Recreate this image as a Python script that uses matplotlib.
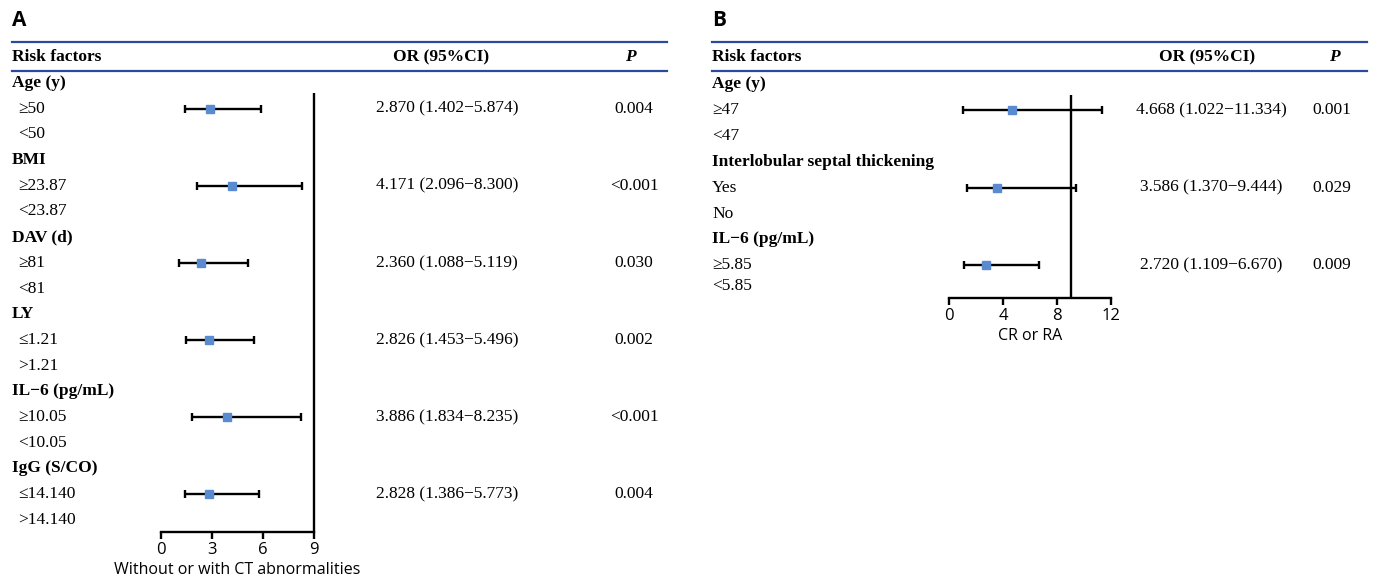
import matplotlib
matplotlib.use("Agg")
import matplotlib.pyplot as plt
from matplotlib.lines import Line2D
import matplotlib.transforms as mtransforms

# ---- dados do painel A ----
labels_a = ["Age (y)", "≥50", "<50", "BMI", "≥23.87", "<23.87", "DAV (d)", "≥81", "<81",
            "LY", "≤1.21", ">1.21", "IL−6 (pg/mL)", "≥10.05", "<10.05",
            "IgG (S/CO)", "≤14.140", ">14.140"]
header_a = [True, False, False] * 6
or_rows_a = [1, 4, 7, 10, 13, 16]
or_a = [2.870, 4.171, 2.360, 2.826, 3.886, 2.828]
lo_a = [1.402, 2.096, 1.088, 1.453, 1.834, 1.386]
hi_a = [5.874, 8.300, 5.119, 5.496, 8.235, 5.773]
p_a = ["0.004", "<0.001", "0.030", "0.002", "<0.001", "0.004"]
ticks_a = [0, 3, 6, 9]

# ---- dados do painel B ----
labels_b = ["Age (y)", "≥47", "<47", "Interlobular septal thickening", "Yes", "No",
            "IL−6 (pg/mL)", "≥5.85", "<5.85"]
header_b = [True, False, False] * 3
rows_b = [0, 1, 2, 3, 4, 5, 6, 7, 7.8]
or_rows_b = [1, 4, 7]
or_b = [4.668, 3.586, 2.720]
lo_b = [1.022, 1.370, 1.109]
hi_b = [11.334, 9.444, 6.670]
p_b = ["0.001", "0.029", "0.009"]
ticks_b = [0, 4, 8, 12]

ref_line = 9

W, H = 1373, 583
fig = plt.figure(figsize=(W / 100, H / 100), dpi=100)

serif = "Liberation Serif"
sans = "Open Sans"
blue_line = "#2b4a9b"
marker_col = "#5a8ad0"
fs = 12.5


def fx(x):
    return x / W


def fy(y):
    return 1 - y / H


def make_axes(left, right, top, bottom):
    return fig.add_axes([fx(left), fy(bottom), fx(right) - fx(left), fy(top) - fy(bottom)])


def panel(ax, x0, x1, letter, labels, header, rows, or_rows, ors, los, his, ps,
          ticks, xlabel, indent, or_x, or_head_x, p_x, p_head_x, vtop, ybottom):
    ax.set_xlim(ticks[0], ticks[-1])
    for s in ["left", "top", "right"]:
        ax.spines[s].set_visible(False)
    ax.spines["bottom"].set_linewidth(1.7)
    ax.set_yticks([])
    ax.set_xticks(ticks)
    ax.tick_params(axis="x", length=5, width=1.7, pad=2, labelsize=12)
    for t in ax.get_xticklabels():
        t.set_fontfamily(sans)
    ax.set_xlabel(xlabel, fontfamily=sans, fontsize=11.5, labelpad=3)
    ax.patch.set_visible(False)

    # linha de referência
    ax.plot([ref_line, ref_line], [vtop, ybottom], color="black", lw=1.7,
            clip_on=False, solid_capstyle="butt")

    # barras de erro
    yy = [rows[r] for r in or_rows]
    xerr = [[o - l for o, l in zip(ors, los)], [h - o for o, h in zip(ors, his)]]
    ax.errorbar(ors, yy, xerr=xerr, fmt="none", ecolor="black", elinewidth=1.7,
                capsize=3, capthick=1.7, clip_on=False)
    ax.plot(ors, yy, "s", color=marker_col, markersize=6, clip_on=False, zorder=3)

    tr = mtransforms.blended_transform_factory(fig.transFigure, ax.transData)
    for lab, hd, r in zip(labels, header, rows):
        xx = x0 if hd else x0 + indent
        ax.text(fx(xx), r, lab, transform=tr, fontfamily=serif, fontsize=fs,
                fontweight="bold" if hd else "normal", va="center", ha="left")
    for r, o, l, h, p in zip(or_rows, ors, los, his, ps):
        ax.text(fx(or_x), rows[r], f"{o:.3f} ({l:.3f}−{h:.3f})", transform=tr,
                fontfamily=serif, fontsize=fs, va="center", ha="center")
        ax.text(fx(p_x), rows[r], p, transform=tr, fontfamily=serif, fontsize=fs,
                va="center", ha="center")

    # cabeçalho da tabela
    fig.text(fx(x0), fy(20), letter, fontfamily=sans, fontweight="bold", fontsize=15,
             va="center", ha="left")
    for y in (42, 71):
        fig.add_artist(Line2D([fx(x0), fx(x1)], [fy(y), fy(y)], color=blue_line, lw=1.6))
    fig.text(fx(x0), fy(57), "Risk factors", fontfamily=serif, fontweight="bold",
             fontsize=fs, va="center", ha="left")
    fig.text(fx(or_head_x), fy(57), "OR (95%CI)", fontfamily=serif, fontweight="bold",
             fontsize=fs, va="center", ha="center")
    fig.text(fx(p_head_x), fy(57), "P", fontfamily=serif, fontweight="bold",
             fontstyle="italic", fontsize=fs, va="center", ha="center")


# painel A: linha i em y = 83 + 25.7*i px
axA = make_axes(161, 314, 71, 532)
rows_a = list(range(len(labels_a)))
panel(axA, 12, 667, "A", labels_a, header_a, rows_a, or_rows_a, or_a, lo_a, hi_a, p_a,
      ticks_a, "Without or with CT abnormalities", 6, 447, 441, 634, 630,
      (93 - 83) / 25.7, (532 - 83) / 25.7)
axA.set_ylim((532 - 83) / 25.7, (71 - 83) / 25.7)

# painel B: linha i em y = 84 + 25.9*i px
axB = make_axes(949, 1111, 71, 298)
panel(axB, 712, 1367, "B", labels_b, header_b, rows_b, or_rows_b, or_b, lo_b, hi_b, p_b,
      ticks_b, "CR or RA", 0, 1211, 1207, 1332, 1334,
      (95 - 84) / 25.9, (298 - 84) / 25.9)
axB.set_ylim((298 - 84) / 25.9, (71 - 84) / 25.9)

fig.savefig("out.png", dpi=100)
